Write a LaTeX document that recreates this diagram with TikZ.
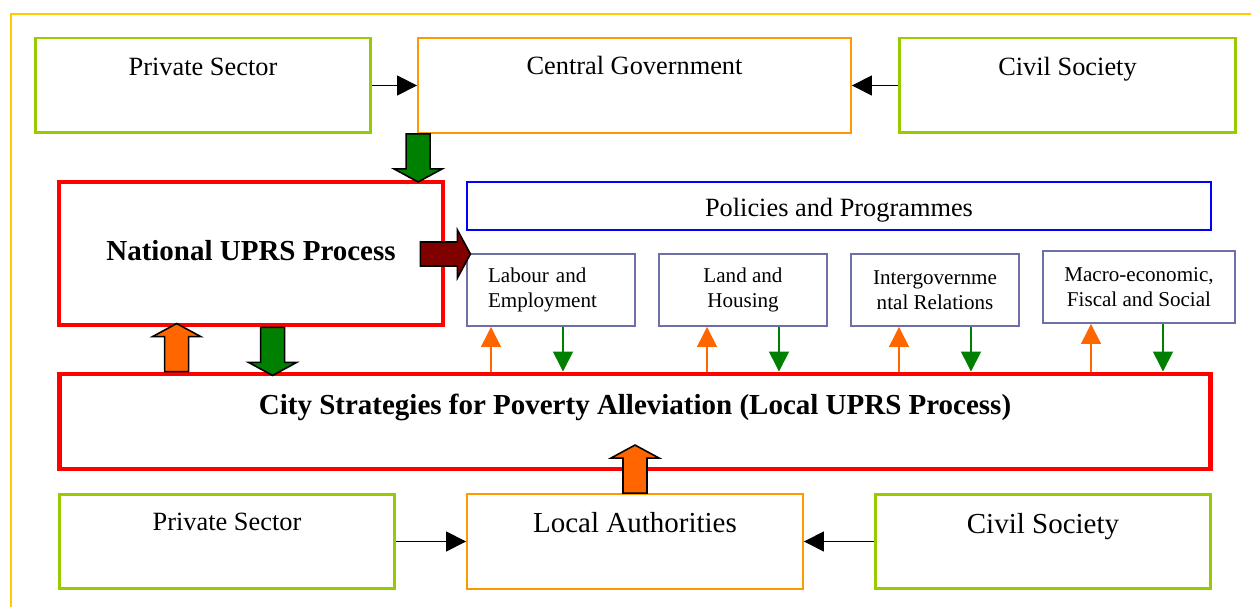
\documentclass[tikz,border=0pt]{standalone}
\usepackage{fontspec}
\setmainfont{Liberation Serif}
\usetikzlibrary{arrows.meta,calc}
\definecolor{actgreen}{HTML}{99CC00}
\definecolor{govorange}{HTML}{FF9900}
\definecolor{uprsred}{HTML}{FF0000}
\definecolor{polblue}{HTML}{0000FF}
\definecolor{themegrey}{HTML}{6F6FA8}
\definecolor{framegold}{HTML}{FFCC00}
\definecolor{fatgreen}{HTML}{008000}
\definecolor{fatorange}{HTML}{FF6600}
\definecolor{fatmaroon}{HTML}{800000}
\tikzset{
    actor/.style={draw=actgreen, line width=1.7pt, minimum width=6.72cm, minimum height=1.9cm},
    gov/.style={draw=govorange, line width=1.1pt, minimum height=1.9cm},
    uprs/.style={draw=uprsred, line width=2.8pt},
    theme/.style={draw=themegrey, line width=1.1pt, minimum width=3.36cm, minimum height=1.44cm,
                  align=center, font=\fontsize{12}{14.2}\selectfont},
    txt/.style={font=\fontsize{15}{18}\selectfont},
    txtbig/.style={font=\fontsize{16.5}{20}\selectfont},
    link/.style={-{Triangle[length=0.4cm,width=0.4cm]}, line width=0.8pt},
    upflow/.style={link, draw=fatorange},
    dnflow/.style={link, draw=fatgreen},
    fat/.style={draw=black, line width=0.9pt},
    pics/fatarrow/.style args={#1/#2}{code={
        \filldraw[fat, fill=#1] (0,-12) -- (#2-13,-12) -- (#2-13,-24) -- (#2,0)
            -- (#2-13,24) -- (#2-13,12) -- (0,12) -- cycle;
    }}
}
\begin{document}
\begin{tikzpicture}[x=0.02cm, y=-0.02cm]
  \useasboundingbox (0,0) rectangle (1251,607);
  \draw[framegold, line width=0.9pt] (11,607) -- (11,14) -- (1251,14);

  % top row
  \node[actor] (ps1) at (203,85.5) {};
  \node[gov, minimum width=8.66cm] (cg) at (634.5,85.5) {};
  \node[actor, minimum width=6.74cm] (cs1) at (1067.5,85.5) {};
  \node[txt] (ps1-l) at ($(ps1)+(0,-18.5)$) {Private Sector};
  \node[txt] (cg-l) at ($(cg)+(0,-20.5)$) {Central Government};
  \node[txt] (cs1-l) at ($(cs1)+(0,-16)$) {Civil Society};

  % national level and policies
  \node[uprs, minimum width=7.68cm, minimum height=2.86cm] (nat) at (251,253.5) {};
  \node[font=\fontsize{16.5}{20}\selectfont\bfseries] (nat-l) at ($(nat)+(0,-2.5)$) {National UPRS Process};
  \node[draw=polblue, line width=1.1pt, minimum width=14.88cm, minimum height=0.96cm] (pol) at (839,206) {};
  \node[txt] (pol-l) at ($(pol)+(0,4)$) {Policies and Programmes};
  \node[theme, align=left, text width=2.52cm] (lab) at (551,290) {Labour and\\Employment};
  \node[theme] (land) at (743,290) {Land and\\Housing};
  \node[theme] (inter) at (935,290) {Intergovernme\\ntal Relations};
  \node[theme, minimum width=3.84cm] (macro) at (1139,287) {Macro-economic,\\Fiscal and Social};

  % local level
  \node[uprs, minimum width=23.04cm, minimum height=1.9cm] (city) at (635,421.5) {};
  \node[font=\fontsize{16.5}{20}\selectfont\bfseries] (city-l) at ($(city)+(0,-14.5)$)
    {City Strategies for Poverty Alleviation (Local UPRS Process)};

  % bottom row
  \node[actor] (ps2) at (227,541.5) {};
  \node[gov, minimum width=6.72cm] (la) at (635,541.5) {};
  \node[actor] (cs2) at (1043,541.5) {};
  \node[txt] (ps2-l) at ($(ps2)+(0,-19.5)$) {Private Sector};
  \node[txtbig] (la-l) at ($(la)+(0,-18.5)$) {Local Authorities};
  \node[txtbig] (cs2-l) at ($(cs2)+(0,-15)$) {Civil Society};

  % connectors
  \draw[link] (ps1.east) -- (cg.west);
  \draw[link] (cs1.west) -- (cg.east);
  \draw[link] (ps2.east) -- (la.west);
  \draw[link] (cs2.west) -- (la.east);
  \foreach \thm/\up/\dn in {lab/491/563, land/707/779, inter/899/971, macro/1091/1163} {
    \draw[upflow] (\up,0 |- city.north) -- (\up,0 |- \thm.south);
    \draw[dnflow] (\dn,0 |- \thm.south) -- (\dn,0 |- city.north);
  }

  % block arrows
  \pic[rotate=-90] at ($(cg.south west)+(1,0)$) {fatarrow=fatgreen/48};
  \pic[rotate=90] at ($(city.north west)+(120,0)$) {fatarrow=fatorange/48};
  \pic[rotate=-90] at ($(nat.south west)+(216,0)$) {fatarrow=fatgreen/48};
  \pic at ($(nat.east)+(-25,0.5)$) {fatarrow=fatmaroon/50};
  \pic[rotate=90] at (la.north) {fatarrow=fatorange/48};
\end{tikzpicture}
\end{document}
